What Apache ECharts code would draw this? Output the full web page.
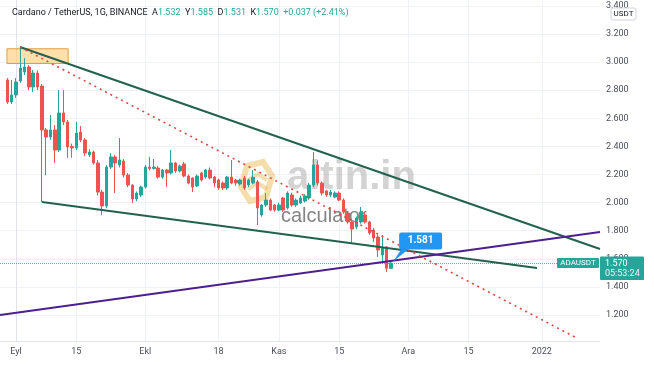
<!DOCTYPE html>
<html><head><meta charset="utf-8">
<script src="https://cdn.jsdelivr.net/npm/echarts@6/dist/echarts.min.js"></script>
<style>html,body{margin:0;padding:0;background:#fff;overflow:hidden}#c{width:654px;height:366px}</style>
</head><body><div id="c"></div>
<script>
// ---- data (day offsets are relative to 1 Sep 2021) ----
const symbolName = 'ADAUSDT';
const firstCandleDay = -2; // 30 Aug 2021
const opens = [2.873,2.716,2.766,2.865,2.930,2.965,2.823,2.922,2.830,2.517,2.467,2.517,2.374,2.638,2.574,2.400,2.389,2.502,2.446,2.339,2.360,2.282,2.075,1.976,2.253,2.325,2.268,2.296,2.196,2.125,2.026,2.054,2.111,2.253,2.243,2.246,2.182,2.232,2.211,2.282,2.225,2.275,2.189,2.175,2.118,2.211,2.182,2.232,2.182,2.161,2.139,2.104,2.182,2.160,2.132,2.175,2.125,2.139,2.147,1.912,1.983,2.018,1.983,1.947,2.033,1.962,2.054,1.983,1.997,2.011,2.033,2.125,2.268,2.139,2.083,2.054,2.040,2.068,2.018,1.926,1.862,1.826,1.862,1.912,1.862,1.805,1.755,1.627,1.684,1.532];
const closes = [2.716,2.766,2.858,2.958,2.965,2.823,2.922,2.823,2.517,2.467,2.517,2.374,2.638,2.574,2.396,2.389,2.495,2.446,2.353,2.360,2.282,2.075,1.976,2.253,2.325,2.282,2.303,2.196,2.125,2.026,2.068,2.111,2.253,2.243,2.253,2.182,2.232,2.211,2.282,2.225,2.260,2.189,2.139,2.111,2.189,2.161,2.232,2.175,2.139,2.104,2.104,2.182,2.139,2.140,2.160,2.104,2.161,2.180,1.962,1.983,2.018,1.947,1.947,1.983,1.947,2.068,1.983,2.018,2.033,2.047,2.125,2.268,2.139,2.068,2.054,2.075,2.068,2.018,1.933,1.862,1.812,1.890,1.933,1.862,1.784,1.748,1.663,1.677,1.532,1.570];
const lows = [2.702,2.702,2.745,2.851,2.908,2.801,2.787,2.801,2.004,2.196,2.446,2.282,2.360,2.552,2.317,2.320,2.374,2.430,2.332,2.325,2.270,2.050,1.912,1.960,2.240,2.068,2.250,2.180,2.110,1.997,2.010,2.040,2.100,2.230,2.235,2.170,2.170,2.111,2.200,2.210,2.215,2.180,2.130,2.075,2.110,2.150,2.170,2.165,2.110,2.090,2.090,2.090,2.130,2.120,2.120,2.090,2.110,2.130,1.841,1.900,1.970,1.940,1.935,1.940,1.935,1.950,1.970,1.970,1.990,2.000,2.020,2.110,2.120,2.050,2.040,2.040,2.030,2.010,1.920,1.850,1.712,1.810,1.850,1.850,1.770,1.720,1.613,1.577,1.506,1.531];
const highs = [2.887,2.873,2.887,3.107,3.029,2.979,2.944,2.940,2.844,2.531,2.623,2.552,2.801,2.801,2.588,2.420,2.574,2.545,2.460,2.380,2.370,2.303,2.090,2.268,2.353,2.340,2.460,2.310,2.210,2.130,2.080,2.120,2.268,2.325,2.310,2.260,2.240,2.240,2.374,2.290,2.270,2.290,2.200,2.180,2.200,2.220,2.240,2.250,2.190,2.170,2.150,2.190,2.303,2.170,2.170,2.190,2.170,2.232,2.160,1.990,2.068,2.030,1.990,2.000,2.040,2.080,2.070,2.030,2.050,2.060,2.140,2.360,2.300,2.150,2.090,2.090,2.080,2.080,2.030,1.940,1.870,1.900,1.969,1.930,1.870,1.820,1.770,1.769,1.690,1.585];

const xTickDays   = [0, 14, 30, 47, 61, 75, 91, 105, 122];
const xTickLabels = ['Eyl', '15', 'Ekl', '18', 'Kas', '15', 'Ara', '15', '2022'];
const yTickValues = [1.2, 1.4, 1.6, 1.8, 2.0, 2.2, 2.4, 2.6, 2.8, 3.0, 3.2, 3.4];

const upperTrend   = [[0.93, 3.107], [135.5, 1.670]];
const lowerTrend   = [[6.03, 2.004], [120.9, 1.534]];
const supportTrend = [[-3.71, 1.200], [135.5, 1.791]];
const dottedTrend  = [[0.93, 3.107], [129.7, 1.043]];
const zoneBox      = [[-2.1, 3.095], [12.1, 2.990]];
const lastPrice    = 1.570;
const calloutPoint = [87.5, 1.581];
const calloutText  = '1.581';
const countdownText = '05:53:24';
const headerTitle = 'Cardano / TetherUS, 1G, BINANCE';
const headerChange = '+0.037 (+2.41%)';

// ---- chart ----
const UP = '#26a69a', DOWN = '#ef5350';
const FONT = 'Roboto, "Noto Sans", sans-serif';
const chart = echarts.init(document.getElementById('c'), null, {renderer: 'canvas'});
const n = opens.length;
const candles = opens.map((o, i) => [firstCandleDay + i, o, closes[i], lows[i], highs[i]]);
const lastIdx = n - 1;

function trend(name, data, color, width, type, z) {
  return {type: 'line', name, data, symbol: 'none', silent: true, z: z || 5,
    lineStyle: {color, width, type: type || 'solid'}, animation: false};
}

const headerRich = '{t|' + headerTitle + '}  {l|A}{v|' + opens[lastIdx].toFixed(3) + '}  {l|Y}{v|' + highs[lastIdx].toFixed(3) +
  '}  {l|D}{v|' + lows[lastIdx].toFixed(3) + '}  {l|K}{v|' + closes[lastIdx].toFixed(3) + '}  {v|' + headerChange + '}';

chart.setOption({
  animation: false,
  backgroundColor: '#ffffff',
  grid: {left: 0, top: 0, right: 54, bottom: 25, containLabel: false},
  xAxis: {
    type: 'value', min: -3.712, max: 135.5,
    axisLine: {show: true, lineStyle: {color: '#e0e3eb'}},
    axisTick: {show: false, customValues: xTickDays},
    axisLabel: {customValues: xTickDays, formatter: v => xTickLabels[xTickDays.indexOf(v)],
      color: '#4a4e59', fontSize: 9, fontFamily: FONT, margin: 6},
    splitLine: {show: true, lineStyle: {color: '#eef1f6', width: 1}}
  },
  yAxis: {
    type: 'value', position: 'right', min: 1.015, max: 3.442, scale: true,
    axisLine: {show: true, lineStyle: {color: '#e0e3eb'}},
    axisTick: {show: false, customValues: yTickValues},
    axisLabel: {customValues: yTickValues, formatter: v => v.toFixed(3),
      color: '#4a4e59', fontSize: 9, fontFamily: FONT, margin: 6, align: 'left'},
    splitLine: {show: true, lineStyle: {color: '#eef1f6', width: 1}}
  },
  series: [
    {
      type: 'line', name: 'zone', data: [], silent: true, z: 1,
      markArea: {silent: true, z: 1,
        itemStyle: {color: 'rgba(255,196,100,0.55)', borderColor: '#e0a040', borderWidth: 1},
        data: [[{coord: zoneBox[0]}, {coord: zoneBox[1]}]]}
    },
    {
      type: 'candlestick', name: symbolName, data: candles, z: 3,
      encode: {x: 0, y: [1, 2, 3, 4]},
      barWidth: 3,
      itemStyle: {color: UP, color0: DOWN, borderColor: UP, borderColor0: DOWN, borderWidth: 1},
      markLine: {silent: true, symbol: 'none', label: {show: false},
        lineStyle: {type: 'dotted', color: '#6aa8a2', width: 1},
        data: [{yAxis: lastPrice}]},
      markPoint: {
        silent: true, z: 10,
        symbol: 'path://M8,0 L47,0 Q49,0 49,2 L49,15 Q49,17 47,17 L15,17 L0,29 L8,17 Q6,17 6,15 L6,2 Q6,0 8,0 Z',
        symbolSize: [49, 29], symbolOffset: [24.5, -14.5], symbolKeepAspect: false,
        itemStyle: {color: '#2196f3'},
        label: {show: true, formatter: calloutText, color: '#fff', fontWeight: 'bold', fontSize: 10,
          fontFamily: FONT, position: 'inside', offset: [3, -6]},
        data: [{coord: calloutPoint}]
      }
    },
    trend('upper', upperTrend, '#23614f', 2),
    trend('lower', lowerTrend, '#23614f', 2),
    trend('support', supportTrend, '#4b1f8f', 2),
    trend('dotted', dottedTrend, '#e0463f', 1.6, [2, 4])
  ]
});

// price tags placed through the axes' own scales
const py = chart.convertToPixel({yAxisIndex: 0}, lastPrice);
const xRight = chart.convertToPixel({xAxisIndex: 0}, 135.5);

chart.setOption({
  graphic: [
    // watermark (behind series)
    {type: 'group', z: 0, children: [
      {type: 'polygon', shape: {points: [[247,166],[263,162],[272,176],[266,197],[250,201],[241,187]]},
        style: {fill: 'none', stroke: 'rgba(232,180,70,0.45)', lineWidth: 6}},
      {type: 'polyline', shape: {points: [[248,180],[258,174],[267,180]]},
        style: {stroke: 'rgba(232,180,70,0.45)', lineWidth: 4, fill: 'none'}},
      {type: 'polyline', shape: {points: [[248,189],[258,183],[267,189]]},
        style: {stroke: 'rgba(232,180,70,0.45)', lineWidth: 4, fill: 'none'}},
      {type: 'text', left: 287, top: 158, style: {text: 'altin.in', font: 'bold 40px "Liberation Sans", Arial, sans-serif',
        fill: 'rgba(175,175,175,0.55)'}},
      {type: 'text', left: 281, top: 206, style: {text: 'calculator', font: '20px "Liberation Sans", Arial, sans-serif',
        fill: 'rgba(110,110,110,0.85)'}}
    ]},
    // header
    {type: 'text', left: 12, top: 8, z: 20, style: {
      text: headerRich, font: '9px ' + FONT,
      rich: {
        t: {fill: '#131722', fontSize: 9, fontFamily: FONT},
        l: {fill: '#131722', fontSize: 9, fontFamily: FONT},
        v: {fill: UP, fontSize: 9, fontFamily: FONT}
      }}},
    // currency box
    {type: 'rect', z: 20, shape: {x: 611, y: 8, width: 25, height: 12, r: 2},
      style: {fill: '#fff', stroke: '#d1d4dc', lineWidth: 1}},
    {type: 'text', z: 21, x: 623.5, y: 14, style: {text: 'USDT', font: '8px ' + FONT, fill: '#131722',
      align: 'center', verticalAlign: 'middle'}},
    // symbol tag
    {type: 'rect', z: 20, shape: {x: xRight - 43, y: py - 5, width: 42, height: 10, r: 1}, style: {fill: UP}},
    {type: 'text', z: 21, x: xRight - 22, y: py, style: {text: symbolName, font: '8px ' + FONT, fill: '#fff',
      align: 'center', verticalAlign: 'middle'}},
    // axis price tag
    {type: 'rect', z: 20, shape: {x: xRight, y: py - 6.5, width: 44, height: 23.5, r: 1}, style: {fill: UP}},
    {type: 'text', z: 21, x: xRight + 5, y: py + 0.5, style: {text: lastPrice.toFixed(3), font: '9px ' + FONT, fill: '#fff',
      align: 'left', verticalAlign: 'middle'}},
    {type: 'text', z: 21, x: xRight + 5, y: py + 11, style: {text: countdownText, font: '9px ' + FONT, fill: '#e8f6f4',
      align: 'left', verticalAlign: 'middle'}}
  ]
});
</script></body></html>
